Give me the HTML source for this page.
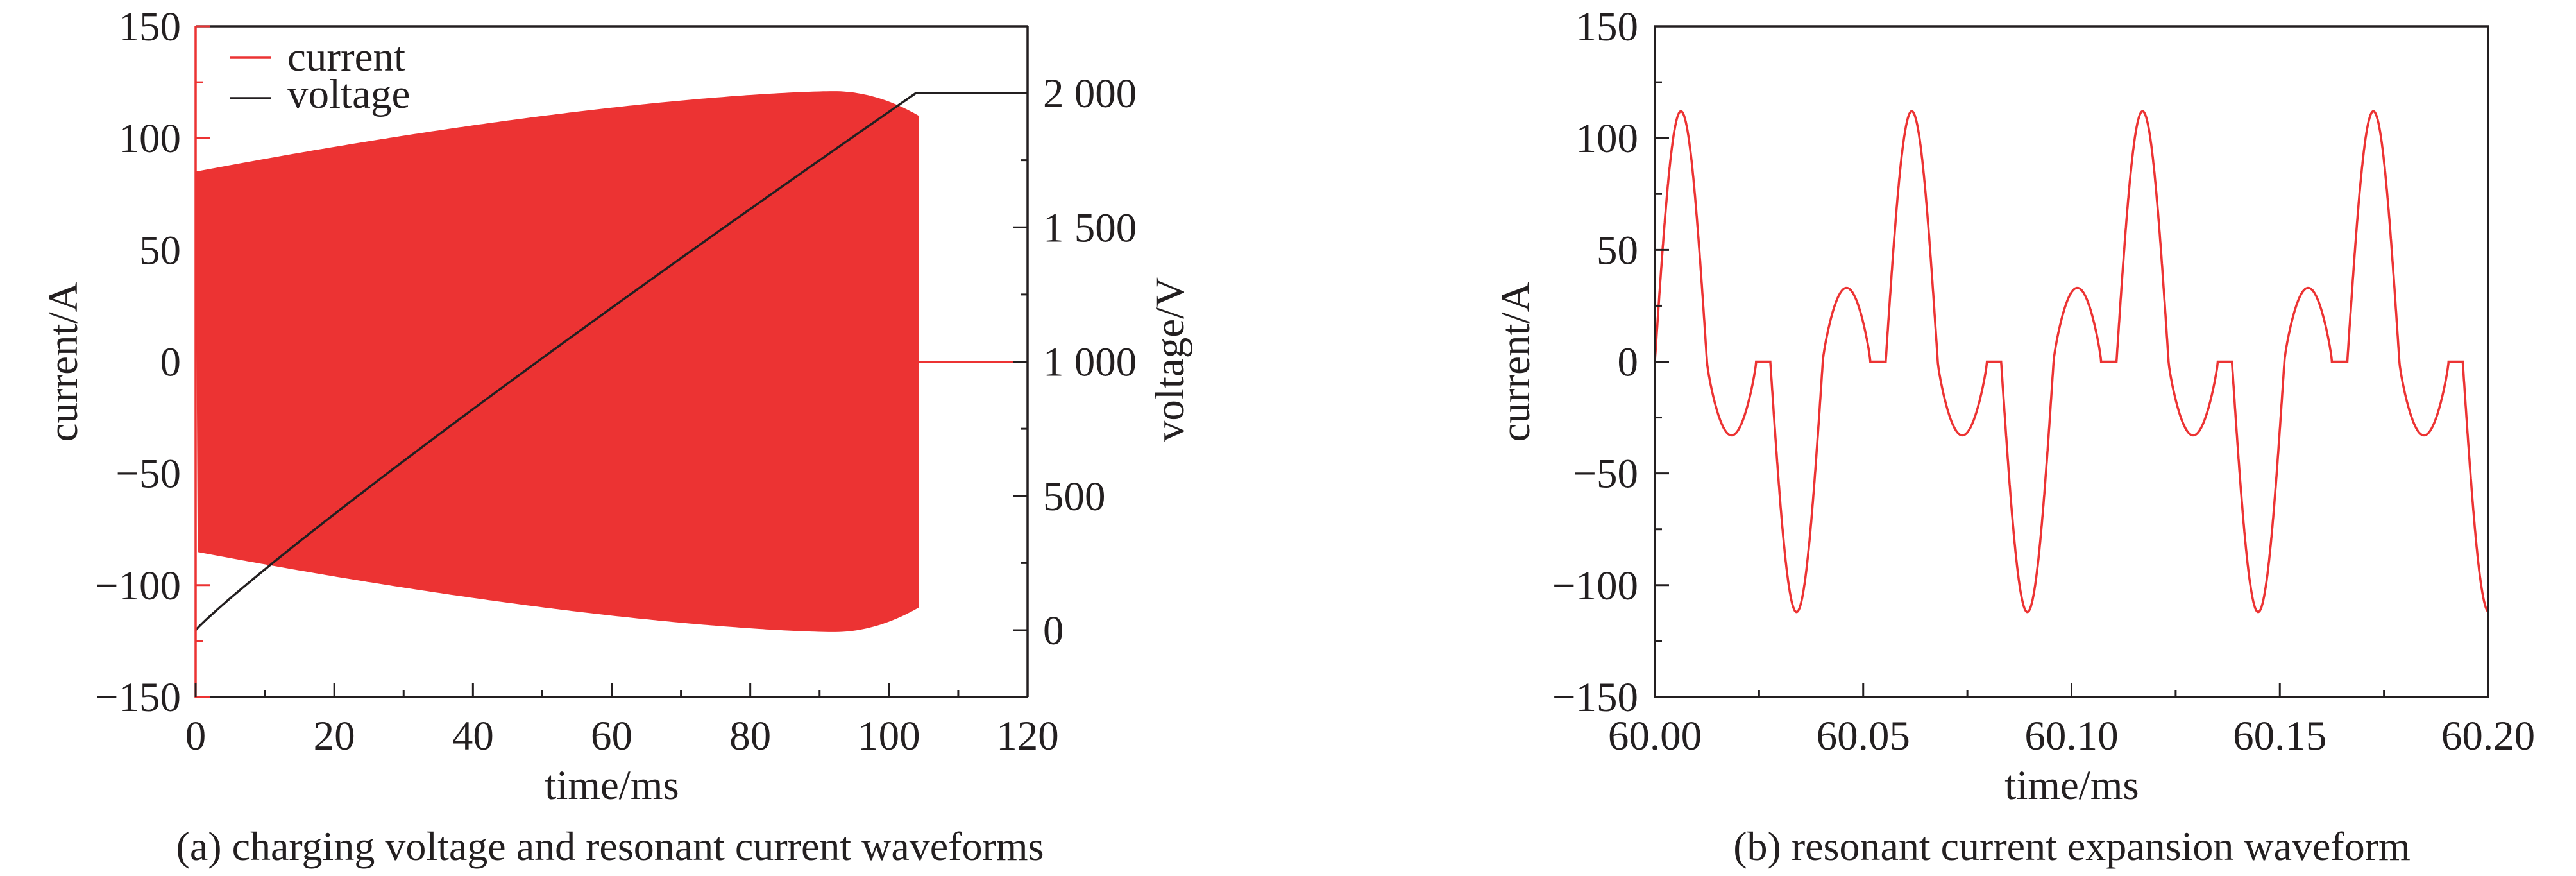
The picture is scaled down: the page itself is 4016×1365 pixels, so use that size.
<!DOCTYPE html>
<html><head><meta charset="utf-8"><style>
html,body{margin:0;padding:0;background:#fff;}
svg{display:block;}
text{font-family:"Liberation Serif",serif;fill:#231f20;}
</style></head><body>
<svg id="s" width="4016" height="1365" viewBox="0 0 4016 1365" xmlns="http://www.w3.org/2000/svg">
<g id="a"></g>
</svg>
<script>
var S=document.getElementById('a');var NS='http://www.w3.org/2000/svg';
function el(t,at,txt){var e=document.createElementNS(NS,t);for(var k in at)e.setAttribute(k,at[k]);if(txt!==undefined)e.textContent=txt;S.appendChild(e);return e;}
var FS=65,RED='#ec3333',BK='#231f20';
// ---------- Panel A ----------
var L=305,R=1602,T=41,B=1086;
function xa(t){return L+(t/120)*(R-L);}
function ya(c){return 563.5-c*3.483;}
function yv(v){return 982-v*0.4185;}
function env(t){ if(t<=92) return 85+36*(1-Math.pow(1-t/92,1.5)); var u=(t-92)/12.3; return 121-11*u*u;}
var p='M'+xa(0)+','+ya(85);
for(var t=0;t<=104.3;t+=0.5){p+=' L'+xa(t).toFixed(1)+','+ya(env(t)).toFixed(1);}
p+=' L'+xa(104.3)+','+ya(110);
for(var t=104.3;t>=0;t-=0.5){p+=' L'+xa(t).toFixed(1)+','+ya(-env(t)).toFixed(1);}
p+=' Z';
el('path',{d:p,fill:RED});
el('line',{x1:xa(104.3),y1:ya(0),x2:R,y2:ya(0),stroke:RED,'stroke-width':3});
var v='M'+xa(0)+','+yv(0);
for(var t=0.5;t<=103.9;t+=0.5){v+=' L'+xa(t).toFixed(1)+','+yv(2000*Math.pow(t/103.9,0.93)).toFixed(1);}
v+=' L'+xa(103.9)+','+yv(2000)+' L'+R+','+yv(2000);
el('path',{d:v,fill:'none',stroke:BK,'stroke-width':3.5});
el('line',{x1:L,y1:T,x2:R,y2:T,stroke:BK,'stroke-width':3.5});
el('line',{x1:R,y1:T,x2:R,y2:B,stroke:BK,'stroke-width':3.5});
el('line',{x1:L,y1:B,x2:R,y2:B,stroke:BK,'stroke-width':3.5});
el('line',{x1:L,y1:T,x2:L,y2:B+2,stroke:RED,'stroke-width':3.5});
[[150,22],[125,11],[100,22],[-100,22],[-125,11],[-150,22]].forEach(function(a){el('line',{x1:L,y1:ya(a[0]),x2:L+a[1],y2:ya(a[0]),stroke:RED,'stroke-width':3});});
[150,100,50,0,-50,-100,-150].forEach(function(c){el('text',{x:282,y:ya(c)+22,'text-anchor':'end','font-size':FS},(c<0?'\u2212'+(-c):''+c));});
for(var t=0;t<=120;t+=10){var mj=(t%20==0);el('line',{x1:xa(t),y1:B,x2:xa(t),y2:B-(mj?22:11),stroke:BK,'stroke-width':3});}
for(var t=0;t<=120;t+=20){el('text',{x:xa(t),y:1168,'text-anchor':'middle','font-size':FS},''+t);}
for(var vv=0;vv<=2000;vv+=250){var mj=(vv%500==0);el('line',{x1:R,y1:yv(vv),x2:R-(mj?22:11),y2:yv(vv),stroke:BK,'stroke-width':3});}
[[2000,'2 000'],[1500,'1 500'],[1000,'1 000'],[500,'500'],[0,'0']].forEach(function(a){el('text',{x:1626,y:yv(a[0])+22,'font-size':FS,'xml:space':'preserve'},a[1]);});
el('text',{x:954,y:1245,'text-anchor':'middle','font-size':FS},'time/ms');
el('text',{x:0,y:0,'text-anchor':'middle','font-size':FS,transform:'translate(120,564) rotate(-90)'},'current/A');
el('text',{x:0,y:0,'text-anchor':'middle','font-size':FS,transform:'translate(1845,560) rotate(-90)'},'voltage/V');
el('text',{x:951,y:1340,'text-anchor':'middle','font-size':64},'(a) charging voltage and resonant current waveforms');
el('line',{x1:358,y1:90,x2:423,y2:90,stroke:RED,'stroke-width':3.5});
el('text',{x:448,y:110,'font-size':FS},'current');
el('line',{x1:358,y1:153,x2:423,y2:153,stroke:BK,'stroke-width':3.5});
el('text',{x:448,y:168,'font-size':FS},'voltage');
// ---------- Panel B ----------
var L2=2580,R2=3879;
function xb(t){return L2+(t-60)/0.2*(R2-L2);}
var P=0.0554;
function cur(t){var u=((t-60)%P+P)%P;
 if(u<0.0125) return 112*Math.sin(Math.PI*u/0.0125);
 if(u<0.0243){var w=(u-0.0125)/0.0118;return -33*Math.pow(Math.sin(Math.PI*w),0.8);}
 if(u<0.0277) return 0;
 if(u<0.0403) return -112*Math.sin(Math.PI*(u-0.0277)/0.0126);
 if(u<0.0517){var w=(u-0.0403)/0.0114;return 33*Math.pow(Math.sin(Math.PI*w),0.8);}
 return 0;}
var q='';
for(var i=0;i<=4000;i++){var t=60+0.2*i/4000;q+=(i?' L':'M')+xb(t).toFixed(1)+','+ya(cur(t)).toFixed(1);}
el('path',{d:q,fill:'none',stroke:RED,'stroke-width':3.5});
el('rect',{x:L2,y:T,width:R2-L2,height:B-T,fill:'none',stroke:BK,'stroke-width':3.5});
for(var c=-150;c<=150;c+=25){var mj=(c%50==0);el('line',{x1:L2,y1:ya(c),x2:L2+(mj?22:11),y2:ya(c),stroke:BK,'stroke-width':3});}
[150,100,50,0,-50,-100,-150].forEach(function(c){el('text',{x:2554,y:ya(c)+22,'text-anchor':'end','font-size':FS},(c<0?'\u2212'+(-c):''+c));});
for(var i=0;i<=8;i++){var t=60+i*0.025;var mj=(i%2==0);el('line',{x1:xb(t),y1:B,x2:xb(t),y2:B-(mj?22:11),stroke:BK,'stroke-width':3});}
['60.00','60.05','60.10','60.15','60.20'].forEach(function(s,i){el('text',{x:xb(60+i*0.05),y:1168,'text-anchor':'middle','font-size':FS},s);});
el('text',{x:3230,y:1245,'text-anchor':'middle','font-size':FS},'time/ms');
el('text',{x:0,y:0,'text-anchor':'middle','font-size':FS,transform:'translate(2384,564) rotate(-90)'},'current/A');
el('text',{x:3230,y:1340,'text-anchor':'middle','font-size':64},'(b) resonant current expansion waveform');
</script>
</body></html>
